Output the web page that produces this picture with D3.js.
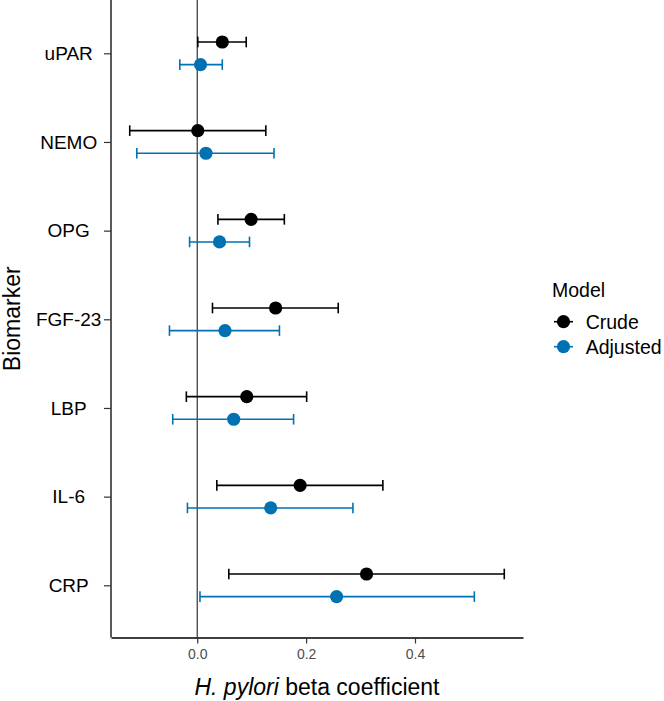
<!DOCTYPE html>
<html>
<head>
<meta charset="utf-8">
<script src="https://cdn.jsdelivr.net/npm/d3@7"></script>
<style>
body { margin: 0; background: #fff; }
text { font-family: "Liberation Sans", Arial, sans-serif; }
</style>
</head>
<body>
<script>
var width = 664, height = 701;

// data
var biomarkers = ["uPAR", "NEMO", "OPG", "FGF-23", "LBP", "IL-6", "CRP"];
var models = ["Crude", "Adjusted"];
var modelColors = ["#000000", "#0072B2"];
var crudeEst = [0.046, 0.001, 0.099, 0.144, 0.091, 0.189, 0.311];
var crudeLow = [0.001, -0.124, 0.038, 0.028, -0.020, 0.036, 0.058];
var crudeHigh = [0.090, 0.126, 0.160, 0.259, 0.201, 0.341, 0.564];
var adjEst = [0.006, 0.016, 0.041, 0.051, 0.067, 0.135, 0.256];
var adjLow = [-0.032, -0.111, -0.014, -0.051, -0.045, -0.018, 0.005];
var adjHigh = [0.046, 0.141, 0.096, 0.151, 0.177, 0.286, 0.509];
var xTicks = [0.0, 0.2, 0.4];

var rows = [];
biomarkers.forEach(function(b, i) {
	rows.push({biomarker: b, model: 0, est: crudeEst[i], lo: crudeLow[i], hi: crudeHigh[i]});
	rows.push({biomarker: b, model: 1, est: adjEst[i], lo: adjLow[i], hi: adjHigh[i]});
});

var panelLeft = 111, panelRight = 523, panelTop = 0, panelBottom = 637.5;
var dodge = 11.3, capHalf = 5.3, dotR = 6.6;

var lo = d3.min(rows, function(d) { return d.lo; });
var hi = d3.max(rows, function(d) { return d.hi; });
var pad = (hi - lo) * 0.05;
var x = d3.scaleLinear().domain([lo - pad, hi + pad]).range([panelLeft, panelRight]);
var y = d3.scalePoint().domain(biomarkers).range([53.3, 585.3]);

function rowY(d) {
	return y(d.biomarker) + (d.model == 0 ? -dodge : dodge);
}

var svg = d3.select("body").append("svg").attr("width", width).attr("height", height);

// zero reference line
svg.append("line")
	.attr("x1", x(0)).attr("x2", x(0))
	.attr("y1", panelTop).attr("y2", panelBottom)
	.attr("stroke", "#333").attr("stroke-width", 1.2);

// x axis
var xAxis = svg.append("g")
	.attr("transform", "translate(0," + panelBottom + ")")
	.call(d3.axisBottom(x).tickValues(xTicks).tickFormat(d3.format(".1f")).tickSize(6).tickSizeOuter(0));
xAxis.select(".domain").attr("stroke", "#000").attr("stroke-width", 1.3);
xAxis.selectAll(".tick line").attr("stroke", "#333").attr("stroke-width", 1.2);
xAxis.selectAll(".tick text").attr("font-size", "14px").attr("fill", "#4D4D4D")
	.attr("font-family", "Liberation Sans, Arial, sans-serif").attr("dy", "0.9em");

// y axis
var yAxis = svg.append("g")
	.attr("transform", "translate(" + panelLeft + ",0)")
	.call(d3.axisLeft(y).tickSize(7).tickSizeOuter(0).tickPadding(0));
yAxis.select(".domain").attr("d", "M0," + panelTop + "V" + panelBottom)
	.attr("stroke", "#000").attr("stroke-width", 1.3);
yAxis.selectAll(".tick line").attr("stroke", "#333").attr("stroke-width", 1.2);
yAxis.selectAll(".tick text")
	.attr("x", 68.7 - panelLeft).attr("text-anchor", "middle")
	.attr("font-size", "19px").attr("fill", "#000")
	.attr("font-family", "Liberation Sans, Arial, sans-serif");

// error bars
var bars = svg.append("g").selectAll(".bar").data(rows).enter().append("g")
	.attr("stroke", function(d) { return modelColors[d.model]; })
	.attr("stroke-width", 1.6);
bars.append("line")
	.attr("x1", function(d) { return x(d.lo); })
	.attr("x2", function(d) { return x(d.hi); })
	.attr("y1", rowY).attr("y2", rowY);
bars.append("line")
	.attr("x1", function(d) { return x(d.lo); })
	.attr("x2", function(d) { return x(d.lo); })
	.attr("y1", function(d) { return rowY(d) - capHalf; })
	.attr("y2", function(d) { return rowY(d) + capHalf; });
bars.append("line")
	.attr("x1", function(d) { return x(d.hi); })
	.attr("x2", function(d) { return x(d.hi); })
	.attr("y1", function(d) { return rowY(d) - capHalf; })
	.attr("y2", function(d) { return rowY(d) + capHalf; });

svg.append("g").selectAll("circle").data(rows).enter().append("circle")
	.attr("cx", function(d) { return x(d.est); })
	.attr("cy", rowY)
	.attr("r", dotR)
	.attr("fill", function(d) { return modelColors[d.model]; });

// axis titles
var xTitle = svg.append("text")
	.attr("x", (panelLeft + panelRight) / 2).attr("y", 695)
	.attr("text-anchor", "middle").attr("font-size", "23px").attr("fill", "#000");
xTitle.append("tspan").attr("font-style", "italic").text("H. pylori");
xTitle.append("tspan").text(" beta coefficient");

svg.append("text")
	.attr("transform", "translate(20," + ((panelTop + panelBottom) / 2) + ") rotate(-90)")
	.attr("text-anchor", "middle").attr("font-size", "23px").attr("fill", "#000")
	.text("Biomarker");

// legend
var legend = svg.append("g");
legend.append("text").attr("x", 552).attr("y", 297)
	.attr("font-size", "19.5px").attr("fill", "#000").text("Model");
var keys = legend.selectAll(".key").data(models).enter().append("g")
	.attr("transform", function(d, i) { return "translate(0," + (321.7 + i * 25) + ")"; });
keys.append("line").attr("x1", 554).attr("x2", 573).attr("y1", 0).attr("y2", 0)
	.attr("stroke", function(d, i) { return modelColors[i]; }).attr("stroke-width", 1.6);
keys.append("circle").attr("cx", 563.5).attr("cy", 0).attr("r", dotR)
	.attr("fill", function(d, i) { return modelColors[i]; });
keys.append("text").attr("x", 585.7).attr("y", 7)
	.attr("font-size", "19.5px").attr("fill", "#000").text(function(d) { return d; });
</script>
</body>
</html>
